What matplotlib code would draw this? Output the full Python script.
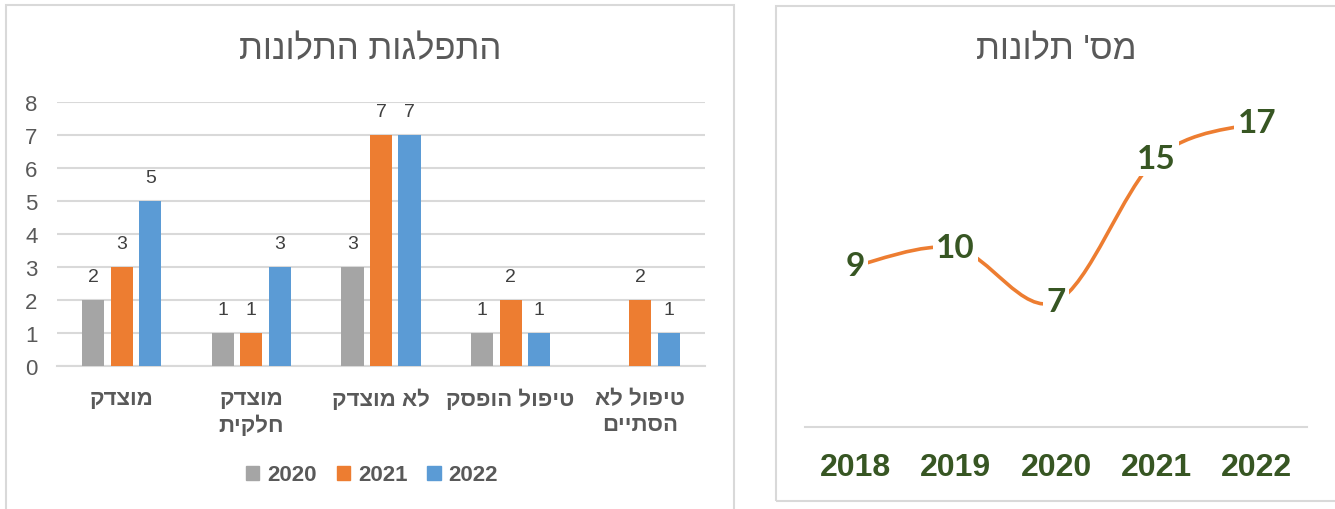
import matplotlib.pyplot as plt
import numpy as np
from matplotlib.path import Path
from matplotlib.patches import PathPatch, Rectangle

# data for the bar chart (complaints by outcome and year)
categories = ['מוצדק', 'מוצדק\nחלקית', 'לא מוצדק', 'טיפול הופסק', 'טיפול לא\nהסתיים']
years = ['2020', '2021', '2022']
counts_2020 = [2, 1, 3, 1, 0]
counts_2021 = [3, 1, 7, 2, 2]
counts_2022 = [5, 3, 7, 1, 1]

# data for the line chart (total complaints per year)
line_years = ['2018', '2019', '2020', '2021', '2022']
line_counts = [9, 10, 7, 15, 17]

left_title = 'התפלגות התלונות'
right_title = "מס' תלונות"

bar_colors = ['#A5A5A5', '#ED7D31', '#5B9BD5']
text_gray = '#595959'
grid_gray = '#D9D9D9'
green = '#375623'


def rtl(s):
    # matplotlib has no bidi support, so flip every line of Hebrew text
    return '\n'.join(line[::-1] for line in s.split('\n'))


plt.rcParams['font.family'] = ['Liberation Sans', 'DejaVu Sans']

fig = plt.figure(figsize=(13.35, 5.1), dpi=100)
W, H = 1335, 510

# panel frames
fig.patches.append(Rectangle((6 / W, -0.05), 728 / W, 1.05 - 6 / H, transform=fig.transFigure,
                             fill=False, edgecolor=grid_gray, lw=1.5))
fig.patches.append(Rectangle((776 / W, 1 - 502 / H), 0.5, (502 - 7) / H, transform=fig.transFigure,
                             fill=False, edgecolor=grid_gray, lw=1.5))

# ---- left: grouped bars ----
ax1 = fig.add_axes([57 / W, 1 - 367 / H, 648 / W, 264 / H])
x = np.arange(len(categories))
width = 0.17
step = 0.22
series = [counts_2020, counts_2021, counts_2022]
for k, (vals, col) in enumerate(zip(series, bar_colors)):
    pos = x + (k - 1) * step
    for p, v in zip(pos, vals):
        if v == 0:
            continue
        ax1.bar(p, v, width=width, color=col, zorder=3)
        ax1.annotate(str(v), (p, v), xytext=(0, 11), textcoords='offset points',
                     ha='center', va='bottom', fontsize=14, color='#404040')

ax1.set_xlim(-0.5, len(categories) - 0.5)
ax1.set_ylim(0, 8)
ax1.set_yticks(range(0, 9))
ax1.yaxis.grid(True, color=grid_gray, lw=1.5, zorder=0)
ax1.set_axisbelow(True)
for s in ['top', 'right', 'left']:
    ax1.spines[s].set_visible(False)
ax1.spines['bottom'].set_color(grid_gray)
ax1.spines['bottom'].set_linewidth(1.5)
ax1.tick_params(axis='y', length=0, pad=14, labelsize=16, labelcolor=text_gray)
ax1.tick_params(axis='x', length=0, pad=16)
ax1.set_xticks(x)
ax1.set_xticklabels([rtl(c) for c in categories], fontsize=16, fontweight='bold',
                    color=text_gray, linespacing=1.3)

fig.text(370 / W, 1 - 50 / H, rtl(left_title), ha='center', va='center', fontsize=25, color=text_gray)

handles = [Rectangle((0, 0), 1, 1, color=c) for c in bar_colors]
fig.legend(handles, years, loc='center', bbox_to_anchor=(372 / W, 1 - 476 / H), ncol=3,
           frameon=False, handlelength=0.6, handleheight=0.6, handletextpad=0.35,
           columnspacing=0.9, prop={'size': 16, 'weight': 'bold'}, labelcolor=text_gray)

# ---- right: smoothed line ----
ax2 = fig.add_axes([805 / W, 1 - 428 / H, 502 / W, 358 / H])
lx = np.arange(len(line_years))
pts = np.column_stack([lx, line_counts]).astype(float)
verts = [pts[0]]
codes = [Path.MOVETO]
n = len(pts)
for i in range(n - 1):
    p0 = pts[max(i - 1, 0)]
    p1 = pts[i]
    p2 = pts[i + 1]
    p3 = pts[min(i + 2, n - 1)]
    verts += [p1 + (p2 - p0) / 6, p2 - (p3 - p1) / 6, p2]
    codes += [Path.CURVE4] * 3
ax2.add_patch(PathPatch(Path(verts, codes), fill=False, edgecolor='#ED7D31', lw=2.6, zorder=2))

for xi, v in zip(lx, line_counts):
    ax2.text(xi, v, str(v), ha='center', va='center', fontsize=24, fontweight='bold',
             family=['Lato', 'DejaVu Sans'], color=green, zorder=4,
             bbox=dict(boxstyle='square,pad=0.1', facecolor='white', edgecolor='none'))

ax2.set_xlim(-0.5, len(line_years) - 0.5)
ax2.set_ylim(0, 20)
ax2.set_yticks([])
ax2.set_xticks(lx)
ax2.set_xticklabels(line_years, fontsize=23, fontweight='bold', color=green)
ax2.tick_params(axis='x', length=0, pad=18)
for s in ['top', 'right', 'left']:
    ax2.spines[s].set_visible(False)
ax2.spines['bottom'].set_color(grid_gray)
ax2.spines['bottom'].set_linewidth(1.5)

fig.text(1056 / W, 1 - 50 / H, rtl(right_title), ha='center', va='center', fontsize=25, color=text_gray)

fig.savefig('out.png', dpi=100)
